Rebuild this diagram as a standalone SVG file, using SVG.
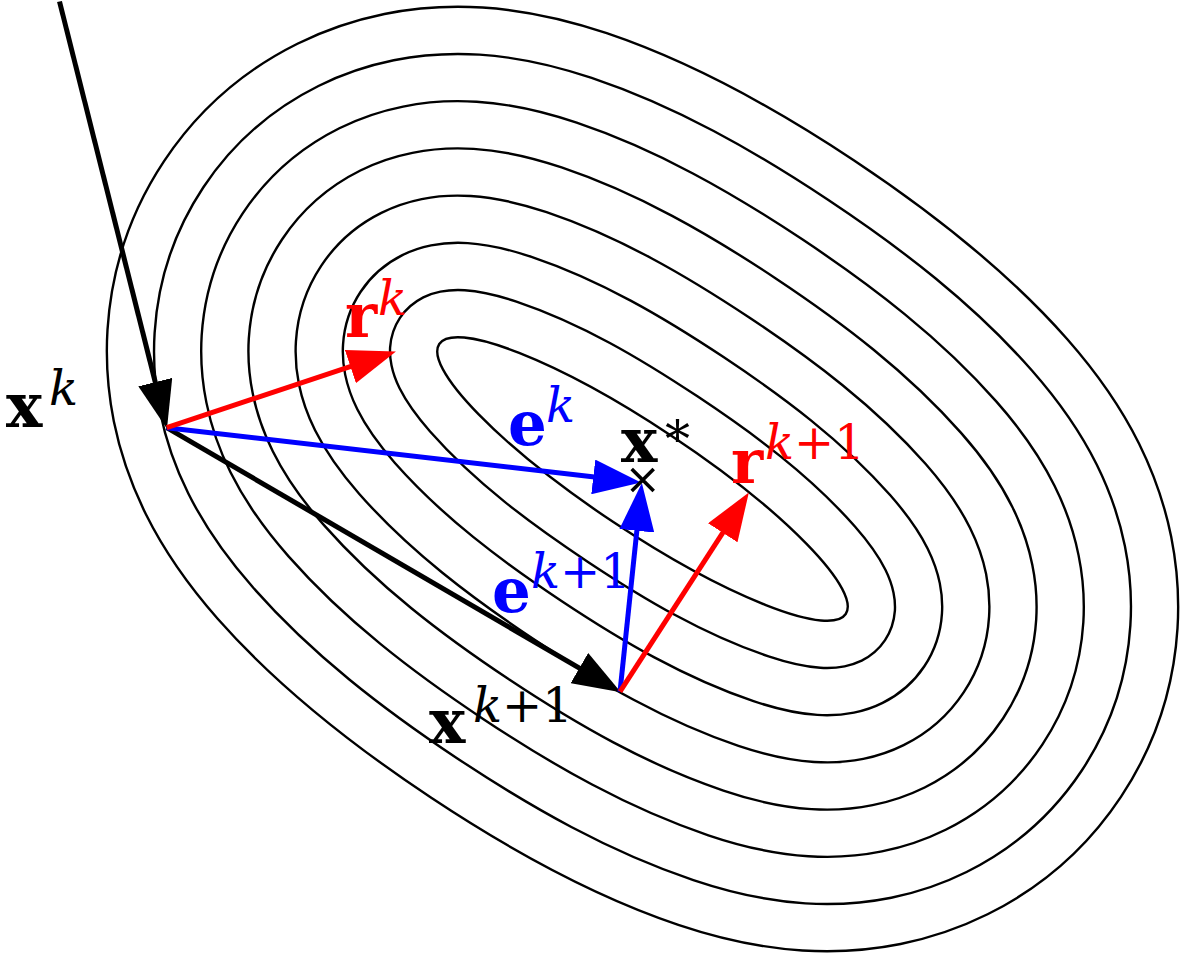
<svg xmlns="http://www.w3.org/2000/svg" width="1187" height="955" viewBox="0 0 1187 955">
<style>
.contour{fill:none;stroke:#000;stroke-width:2.4}
.arrow{fill:none;stroke-width:5}
.k{stroke:#000}
.r{stroke:#f00}
.bl{stroke:#00f}
text{font-family:"DejaVu Serif","Liberation Serif",serif}
.b{font-weight:bold;font-size:61px}
.sup{font-size:48px}
.it{font-style:italic}
</style>
<defs>
<marker id="ah-k" markerUnits="userSpaceOnUse" viewBox="0 0 48 35" refX="10" refY="17.5" markerWidth="48" markerHeight="35" orient="auto"><path d="M0,0 L48,17.5 L0,35 Z" fill="#000"/></marker>
<marker id="ah-r" markerUnits="userSpaceOnUse" viewBox="0 0 48 35" refX="10" refY="17.5" markerWidth="48" markerHeight="35" orient="auto"><path d="M0,0 L48,17.5 L0,35 Z" fill="#f00"/></marker>
<marker id="ah-b" markerUnits="userSpaceOnUse" viewBox="0 0 48 35" refX="10" refY="17.5" markerWidth="48" markerHeight="35" orient="auto"><path d="M0,0 L48,17.5 L0,35 Z" fill="#00f"/></marker>
</defs>
<rect width="1187" height="955" fill="#fff"/>
<g id="contours" transform="translate(642.5 479) rotate(33.6)">
<path id="contour-1" class="contour" d="M574.4,0 C574.4,60.2 558.4,119.4 528.3,171.6 C512.9,198.2 494,222.7 472.3,244.5 C449,267.8 422.6,287.7 394.1,304.2 C357.3,325.4 317.5,340.5 276.5,351.5 C186.5,375.6 93.1,382.4 0,382.4 C-93.1,382.4 -186.5,375.6 -276.5,351.5 C-317.5,340.5 -357.3,325.4 -394.1,304.2 C-422.6,287.7 -449,267.8 -472.3,244.5 C-494,222.7 -512.9,198.2 -528.3,171.6 C-558.4,119.4 -574.4,60.2 -574.4,0 C-574.4,-60.2 -558.4,-119.4 -528.3,-171.6 C-512.9,-198.2 -494,-222.7 -472.3,-244.5 C-449,-267.8 -422.6,-287.7 -394.1,-304.2 C-357.3,-325.4 -317.5,-340.5 -276.5,-351.5 C-186.5,-375.6 -93.1,-382.4 0,-382.4 C93.1,-382.4 186.5,-375.6 276.5,-351.5 C317.5,-340.5 357.3,-325.4 394.1,-304.2 C422.6,-287.7 449,-267.8 472.3,-244.5 C494,-222.7 512.9,-198.2 528.3,-171.6 C558.4,-119.4 574.4,-60.2 574.4,0Z"/>
<path id="contour-2" class="contour" d="M527.2,0 C527.2,52 513.4,103 487.4,148 C474.1,171.1 457.8,192.2 438.9,211.1 C418.5,231.5 395.4,248.9 370.5,263.3 C337.3,282.4 301.3,296 264.3,305.9 C178.3,329 89,335.2 0,335.2 C-89,335.2 -178.3,329 -264.3,305.9 C-301.3,296 -337.3,282.4 -370.5,263.3 C-395.4,248.9 -418.5,231.5 -438.9,211.1 C-457.8,192.2 -474.1,171.1 -487.4,148 C-513.4,103 -527.2,52 -527.2,0 C-527.2,-52 -513.4,-103 -487.4,-148 C-474.1,-171.1 -457.8,-192.2 -438.9,-211.1 C-418.5,-231.5 -395.4,-248.9 -370.5,-263.3 C-337.3,-282.4 -301.3,-296 -264.3,-305.9 C-178.3,-329 -89,-335.2 0,-335.2 C89,-335.2 178.3,-329 264.3,-305.9 C301.3,-296 337.3,-282.4 370.5,-263.3 C395.4,-248.9 418.5,-231.5 438.9,-211.1 C457.8,-192.2 474.1,-171.1 487.4,-148 C513.4,-103 527.2,-52 527.2,0Z"/>
<path id="contour-3" class="contour" d="M480,0 C480,43.7 468.4,86.5 446.6,124.4 C435.3,143.9 421.5,161.8 405.5,177.7 C388.1,195.2 368.3,210.1 346.9,222.4 C317.3,239.5 285.1,251.5 252,260.3 C170,282.3 84.9,288 0,288 C-84.9,288 -170,282.3 -252,260.3 C-285.1,251.5 -317.3,239.5 -346.9,222.4 C-368.3,210.1 -388.1,195.2 -405.5,177.7 C-421.5,161.8 -435.3,143.9 -446.6,124.4 C-468.4,86.5 -480,43.7 -480,0 C-480,-43.7 -468.4,-86.5 -446.6,-124.4 C-435.3,-143.9 -421.5,-161.8 -405.5,-177.7 C-388.1,-195.2 -368.3,-210.1 -346.9,-222.4 C-317.3,-239.5 -285.1,-251.5 -252,-260.3 C-170,-282.3 -84.9,-288 0,-288 C84.9,-288 170,-282.3 252,-260.3 C285.1,-251.5 317.3,-239.5 346.9,-222.4 C368.3,-210.1 388.1,-195.2 405.5,-177.7 C421.5,-161.8 435.3,-143.9 446.6,-124.4 C468.4,-86.5 480,-43.7 480,0Z"/>
<path id="contour-4" class="contour" d="M432.8,0 C432.8,35.4 423.4,70.1 405.7,100.8 C396.5,116.7 385.2,131.3 372.1,144.3 C357.6,158.9 341.1,171.2 323.3,181.5 C297.3,196.6 268.9,207 239.8,214.7 C161.8,235.6 80.8,240.8 0,240.8 C-80.8,240.8 -161.8,235.6 -239.8,214.7 C-268.9,207 -297.3,196.6 -323.3,181.5 C-341.1,171.2 -357.6,158.9 -372.1,144.3 C-385.2,131.3 -396.5,116.7 -405.7,100.8 C-423.4,70.1 -432.8,35.4 -432.8,0 C-432.8,-35.4 -423.4,-70.1 -405.7,-100.8 C-396.5,-116.7 -385.2,-131.3 -372.1,-144.3 C-357.6,-158.9 -341.1,-171.2 -323.3,-181.5 C-297.3,-196.6 -268.9,-207 -239.8,-214.7 C-161.8,-235.6 -80.8,-240.8 0,-240.8 C80.8,-240.8 161.8,-235.6 239.8,-214.7 C268.9,-207 297.3,-196.6 323.3,-181.5 C341.1,-171.2 357.6,-158.9 372.1,-144.3 C385.2,-131.3 396.5,-116.7 405.7,-100.8 C423.4,-70.1 432.8,-35.4 432.8,0Z"/>
<path id="contour-5" class="contour" d="M385.6,0 C385.6,27.1 378.4,53.7 364.8,77.2 C357.7,89.5 348.9,100.9 338.8,111 C327.2,122.6 313.9,132.4 299.7,140.6 C277.2,153.6 252.7,162.4 227.6,169.2 C153.6,189 76.6,193.6 0,193.6 C-76.6,193.6 -153.6,189 -227.6,169.2 C-252.7,162.4 -277.2,153.6 -299.7,140.6 C-313.9,132.4 -327.2,122.6 -338.8,111 C-348.9,100.9 -357.7,89.5 -364.8,77.2 C-378.4,53.7 -385.6,27.1 -385.6,0 C-385.6,-27.1 -378.4,-53.7 -364.8,-77.2 C-357.7,-89.5 -348.9,-100.9 -338.8,-111 C-327.2,-122.6 -313.9,-132.4 -299.7,-140.6 C-277.2,-153.6 -252.7,-162.4 -227.6,-169.2 C-153.6,-189 -76.6,-193.6 0,-193.6 C76.6,-193.6 153.6,-189 227.6,-169.2 C252.7,-162.4 277.2,-153.6 299.7,-140.6 C313.9,-132.4 327.2,-122.6 338.8,-111 C348.9,-100.9 357.7,-89.5 364.8,-77.2 C378.4,-53.7 385.6,-27.1 385.6,0Z"/>
<path id="contour-6" class="contour" d="M338.4,0 C338.4,18.8 333.3,37.3 323.9,53.6 C318.9,62.4 312.6,70.4 305.4,77.6 C296.7,86.3 286.8,93.6 276.1,99.8 C257.2,110.7 236.5,117.9 215.4,123.6 C145.3,142.3 72.5,146.4 0,146.4 C-72.5,146.4 -145.3,142.3 -215.4,123.6 C-236.5,117.9 -257.2,110.7 -276.1,99.8 C-286.8,93.6 -296.7,86.3 -305.4,77.6 C-312.6,70.4 -318.9,62.4 -323.9,53.6 C-333.3,37.3 -338.4,18.8 -338.4,0 C-338.4,-18.8 -333.3,-37.3 -323.9,-53.6 C-318.9,-62.4 -312.6,-70.4 -305.4,-77.6 C-296.7,-86.3 -286.8,-93.6 -276.1,-99.8 C-257.2,-110.7 -236.5,-117.9 -215.4,-123.6 C-145.3,-142.3 -72.5,-146.4 0,-146.4 C72.5,-146.4 145.3,-142.3 215.4,-123.6 C236.5,-117.9 257.2,-110.7 276.1,-99.8 C286.8,-93.6 296.7,-86.3 305.4,-77.6 C312.6,-70.4 318.9,-62.4 323.9,-53.6 C333.3,-37.3 338.4,-18.8 338.4,0Z"/>
<path id="contour-7" class="contour" d="M291.2,0 C291.2,10.5 288.3,20.8 283.1,30 C280,35.2 276.3,40 272,44.2 C266.2,50 259.6,54.8 252.5,58.9 C237.2,67.7 220.3,73.4 203.2,78 C137.1,95.7 68.4,99.2 0,99.2 C-68.4,99.2 -137.1,95.7 -203.2,78 C-220.3,73.4 -237.2,67.7 -252.5,58.9 C-259.6,54.8 -266.2,50 -272,44.2 C-276.3,40 -280,35.2 -283.1,30 C-288.3,20.8 -291.2,10.5 -291.2,0 C-291.2,-10.5 -288.3,-20.8 -283.1,-30 C-280,-35.2 -276.3,-40 -272,-44.2 C-266.2,-50 -259.6,-54.8 -252.5,-58.9 C-237.2,-67.7 -220.3,-73.4 -203.2,-78 C-137.1,-95.7 -68.4,-99.2 0,-99.2 C68.4,-99.2 137.1,-95.7 203.2,-78 C220.3,-73.4 237.2,-67.7 252.5,-58.9 C259.6,-54.8 266.2,-50 272,-44.2 C276.3,-40 280,-35.2 283.1,-30 C288.3,-20.8 291.2,-10.5 291.2,0Z"/>
<ellipse id="contour-8" class="contour" cx="0" cy="0" rx="244" ry="52"/>
</g>
<g id="connectors">
<line id="incoming" class="arrow k" x1="59.5" y1="1.5" x2="157.7" y2="391.8" marker-end="url(#ah-k)"/>
<line id="step" class="arrow k" x1="166.7" y1="427.7" x2="588" y2="673.1" marker-end="url(#ah-k)"/>
<line id="ek" class="arrow bl" x1="166.7" y1="427.7" x2="603.2" y2="478.1" marker-end="url(#ah-b)"/>
<line id="rk" class="arrow r" x1="166.7" y1="427.7" x2="359.9" y2="363.4" marker-end="url(#ah-r)"/>
<line id="ek1" class="arrow bl" x1="620" y1="691.7" x2="637.9" y2="520.8" marker-end="url(#ah-b)"/>
<line id="rk1" class="arrow r" x1="620" y1="691.7" x2="728.2" y2="524.4" marker-end="url(#ah-r)"/>
</g>
<g id="node-xstar">
<path d="M631.7,469 L653.7,491 M631.7,491 L653.7,469" stroke="#000" stroke-width="3.6" fill="none"/>
<text><tspan class="b" x="621" y="462">x</tspan><tspan x="665" y="457" style="font-size:50px">*</tspan></text>
</g>
<g id="node-xk">
<text><tspan class="b" x="6" y="427">x</tspan><tspan class="sup it" x="49" y="405">k</tspan></text>
</g>
<g id="node-rk" fill="#f00">
<text><tspan class="b" x="345" y="337">r</tspan><tspan class="sup it" x="378" y="315">k</tspan></text>
</g>
<g id="node-ek" fill="#00f">
<text><tspan class="b" x="508" y="445">e</tspan><tspan class="sup it" x="546" y="422">k</tspan></text>
</g>
<g id="node-rk1" fill="#f00">
<text><tspan class="b" x="731" y="483">r</tspan><tspan class="sup it" x="765" y="459">k</tspan><tspan class="sup">+1</tspan></text>
</g>
<g id="node-ek1" fill="#00f">
<text><tspan class="b" x="492" y="612">e</tspan><tspan class="sup it" x="531" y="588">k</tspan><tspan class="sup">+1</tspan></text>
</g>
<g id="node-xk1">
<text><tspan class="b" x="429" y="743">x</tspan><tspan class="sup it" x="473" y="722">k</tspan><tspan class="sup">+1</tspan></text>
</g>
</svg>
